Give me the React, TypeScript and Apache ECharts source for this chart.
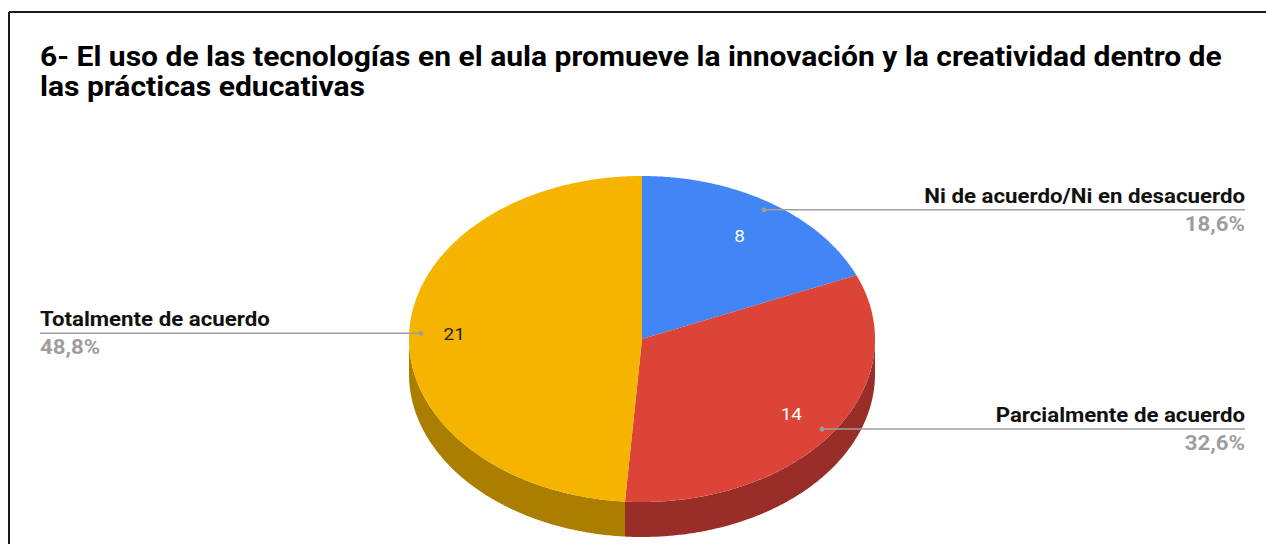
import React, { useEffect, useRef } from 'react';
import * as echarts from 'echarts';

const titleLines = [
  '6- El uso de las tecnologías en el aula promueve la innovación y la creatividad dentro de',
  'las prácticas educativas',
];
const categories = ['Ni de acuerdo/Ni en desacuerdo', 'Parcialmente de acuerdo', 'Totalmente de acuerdo'];
const values = [8, 14, 21];
const topColors = ['#4285F4', '#DB4437', '#F4B400'];
const sideColors = ['#2D5CAA', '#992D27', '#AB7E00'];

const CX = 642;
const CY = 339;
const RX = 233;
const RY = 163;
const DEPTH = 35;
const LABEL_INSET = 45;
const DOT_F = 0.95;
const RIGHT_END = 1245;
const LEFT_END = 40;
const SX = 1.113;
const FONT = 'Roboto, "Noto Sans", sans-serif';

const total = values.reduce((a, b) => a + b, 0);
const starts: number[] = [];
{
  let acc = 0;
  values.forEach((v) => {
    starts.push((acc / total) * 360);
    acc += v;
  });
}

function pt(deg: number, f = 1, dy = 0): [number, number] {
  const r = (deg * Math.PI) / 180;
  return [CX + f * RX * Math.sin(r), CY - f * RY * Math.cos(r) + dy];
}

function arc(a: number, b: number, dy = 0): [number, number][] {
  const pts: [number, number][] = [];
  const n = Math.max(2, Math.ceil((b - a) / 0.5));
  for (let k = 0; k <= n; k++) pts.push(pt(a + ((b - a) * k) / n, 1, dy));
  return pts;
}

function pctText(v: number) {
  return ((v / total) * 100).toFixed(1).replace('.', ',') + '%';
}

function isLight(hex: string) {
  const r = parseInt(hex.slice(1, 3), 16);
  const g = parseInt(hex.slice(3, 5), 16);
  const b = parseInt(hex.slice(5, 7), 16);
  return 0.299 * r + 0.587 * g + 0.114 * b > 160;
}

function txt(x: number, y: number, style: any) {
  return { type: 'text', x, y, scaleX: SX, style: { x: 0, y: 0, fontFamily: FONT, ...style } };
}

export default function App() {
  const ref = useRef<HTMLDivElement>(null);
  useEffect(() => {
    document.body.style.margin = '0';
    const chart = echarts.init(ref.current!, null, { renderer: 'svg' });
    const data = values.map((v, i) => ({ name: categories[i], value: v }));
    chart.setOption({
      animation: false,
      backgroundColor: '#ffffff',
      graphic: [
        { type: 'line', shape: { x1: 9, y1: 12, x2: 1266, y2: 12 }, style: { stroke: '#1a1a1a', lineWidth: 2 } },
        { type: 'line', shape: { x1: 9, y1: 12, x2: 9, y2: 544 }, style: { stroke: '#1a1a1a', lineWidth: 2 } },
        ...titleLines.map((t, k) =>
          txt(40, 42 + k * 30, {
            text: t,
            align: 'left',
            verticalAlign: 'top',
            fontWeight: 'bold',
            fontSize: 27,
            lineHeight: 30,
            fill: '#000000',
          })
        ),
      ],
      series: [
        {
          type: 'custom',
          coordinateSystem: 'none',
          z: 1,
          data,
          renderItem: (params: any, api: any) => {
            const i = params.dataIndex;
            const v = api.value(0);
            const s = starts[i];
            const e = s + (v / total) * 360;
            const a = Math.max(s, 90);
            const b = Math.min(e, 270);
            if (a >= b) return { type: 'group', children: [] };
            const top = arc(a, b, 0);
            const bottom = arc(a, b, DEPTH).reverse();
            return {
              type: 'polygon',
              shape: { points: top.concat(bottom) },
              style: { fill: sideColors[i] },
            };
          },
        },
        {
          type: 'custom',
          coordinateSystem: 'none',
          z: 2,
          data,
          renderItem: (params: any, api: any) => {
            const i = params.dataIndex;
            const v = api.value(0);
            const s = starts[i];
            const e = s + (v / total) * 360;
            const pts: [number, number][] = [[CX, CY] as [number, number]].concat(arc(s, e, 0));
            return {
              type: 'polygon',
              shape: { points: pts },
              style: { fill: topColors[i] },
            };
          },
        },
        {
          type: 'custom',
          coordinateSystem: 'none',
          z: 3,
          data,
          renderItem: (params: any, api: any) => {
            const i = params.dataIndex;
            const v = api.value(0);
            const s = starts[i];
            const e = s + (v / total) * 360;
            const mid = (s + e) / 2;
            const [ex, ey] = pt(mid, 1);
            const len = Math.hypot(ex - CX, ey - CY);
            const [lx, ly] = pt(mid, 1 - LABEL_INSET / len);
            const [dx, dyy] = pt(mid, DOT_F);
            const right = Math.sin((mid * Math.PI) / 180) > 0;
            const endX = right ? RIGHT_END : LEFT_END;
            const align = right ? 'right' : 'left';
            return {
              type: 'group',
              children: [
                txt(lx, ly, {
                  text: String(v),
                  align: 'center',
                  verticalAlign: 'middle',
                  fill: isLight(topColors[i]) ? '#222222' : '#ffffff',
                  fontSize: 17,
                }),
                {
                  type: 'line',
                  shape: { x1: dx, y1: dyy, x2: endX, y2: dyy },
                  style: { stroke: '#9e9e9e', lineWidth: 1.5 },
                },
                { type: 'circle', shape: { cx: dx, cy: dyy, r: 2.5 }, style: { fill: '#9e9e9e' } },
                txt(endX, dyy - 14, {
                  text: categories[i],
                  align,
                  verticalAlign: 'middle',
                  fill: '#111111',
                  fontWeight: 'bold',
                  fontSize: 20,
                }),
                txt(endX, dyy + 14, {
                  text: pctText(v),
                  align,
                  verticalAlign: 'middle',
                  fill: '#9e9e9e',
                  fontWeight: 'bold',
                  fontSize: 20,
                }),
              ],
            };
          },
        },
      ],
    });
    return () => chart.dispose();
  }, []);
  return <div ref={ref} style={{ width: 1266, height: 544 }} />;
}
